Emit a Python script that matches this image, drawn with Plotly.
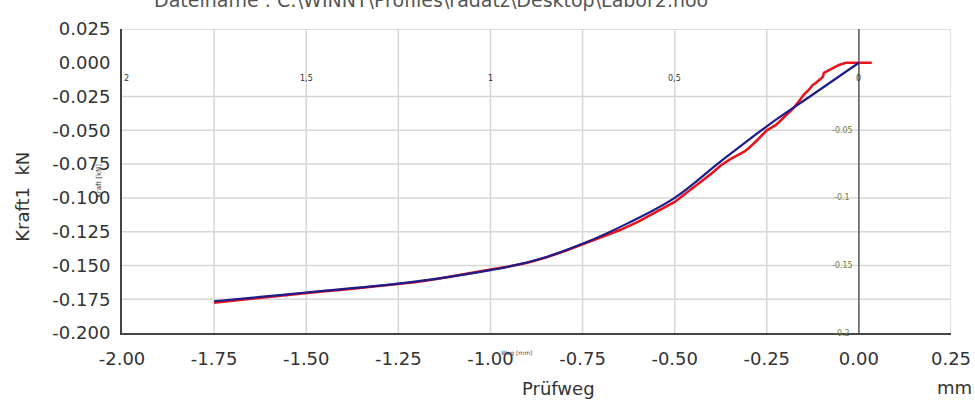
import plotly.graph_objects as go

# Measured curve (red)
meas_x = [-1.75, -1.70, -1.65, -1.60, -1.55, -1.50, -1.45, -1.40, -1.35, -1.30,
          -1.25, -1.20, -1.15, -1.10, -1.05, -1.00, -0.95, -0.90, -0.85, -0.80,
          -0.75, -0.70, -0.65, -0.60, -0.55, -0.50, -0.45, -0.40, -0.375, -0.35,
          -0.3125, -0.30, -0.275, -0.25, -0.225, -0.20, -0.177, -0.166, -0.150,
          -0.136, -0.125, -0.117, -0.098, -0.095, -0.076, -0.054, -0.035, 0.0, 0.035]
meas_y = [-0.1775, -0.1760, -0.1745, -0.1735, -0.1720, -0.1705, -0.1690, -0.1680, -0.1665, -0.1652,
          -0.1638, -0.1622, -0.1602, -0.1580, -0.1555, -0.1530, -0.1508, -0.1480, -0.1442, -0.1395,
          -0.1345, -0.1295, -0.1240, -0.1178, -0.1105, -0.1030, -0.0925, -0.0820, -0.0760, -0.0715,
          -0.0660, -0.0635, -0.0570, -0.0500, -0.0460, -0.0395, -0.0334, -0.0297, -0.0238,
          -0.0201, -0.0164, -0.0150, -0.0105, -0.0075, -0.0046, -0.0016, 0.0, 0.0, 0.0]

# Fitted curve (blue)
fit_x = [-1.75, -1.625, -1.5, -1.375, -1.25, -1.125, -1.0, -0.875, -0.75,
         -0.625, -0.5, -0.375, -0.25, -0.125, 0.0]
fit_y = [-0.1765, -0.1733, -0.1700, -0.1668, -0.1635, -0.1590, -0.1535, -0.1460, -0.1340,
         -0.1185, -0.1000, -0.0730, -0.0470, -0.0235, 0.0]

# Axis ticks / grid
x_ticks = [-2.0, -1.75, -1.5, -1.25, -1.0, -0.75, -0.5, -0.25, 0.0, 0.25]
y_ticks = [0.025, 0.0, -0.025, -0.05, -0.075, -0.1, -0.125, -0.15, -0.175, -0.2]
x_grid = [-1.75, -1.5, -1.25, -1.0, -0.75, -0.5, -0.25, 0.25]
y_grid = [0.025, -0.025, -0.05, -0.075, -0.1, -0.125, -0.15, -0.175]

# Leftover labels of the embedded chart
inner_top_vals = [-2.0, -1.5, -1.0, -0.5, 0.0]
inner_top_text = ["2", "1,5", "1", "0,5", "0"]
inner_right_vals = [-0.05, -0.1, -0.15, -0.2]
inner_right_text = ["-0.05", "-0.1", "-0.15", "-0.2"]

title_text = "Dateiname : C:\\WINNT\\Profiles\\radatz\\Desktop\\Labor2.hoo"

FONT = "DejaVu Sans"

x_ticktext = [f"{v:.2f}" for v in x_ticks]
y_ticktext = [f"{v:.3f}" for v in y_ticks]

fig = go.Figure()
fig.add_trace(go.Scatter(x=meas_x, y=meas_y, mode="lines",
                         line=dict(color="#e8141c", width=2.6), showlegend=False))
fig.add_trace(go.Scatter(x=fit_x, y=fit_y, mode="lines", line_shape="spline",
                         line=dict(color="#1c1c8a", width=2.2), showlegend=False))

shapes = []
for gx in x_grid:
    shapes.append(dict(type="line", xref="x", yref="paper", x0=gx, x1=gx, y0=0, y1=1,
                       line=dict(color="#d6d6d6", width=1.5), layer="below"))
for gy in y_grid:
    shapes.append(dict(type="line", xref="paper", yref="y", x0=0, x1=1, y0=gy, y1=gy,
                       line=dict(color="#d6d6d6", width=1.5), layer="below"))
# inner chart's vertical axis at zero
shapes.append(dict(type="line", xref="x", yref="paper", x0=0, x1=0, y0=0, y1=1,
                   line=dict(color="#555555", width=1.5), layer="below"))

annotations = []
for v, t in zip(inner_top_vals, inner_top_text):
    annotations.append(dict(x=v, y=-0.012, xref="x", yref="y", text=t, showarrow=False,
                            font=dict(family=FONT, size=8, color="#333333"),
                            xanchor="left" if v == -2.0 else "center", yanchor="middle"))
for v, t in zip(inner_right_vals, inner_right_text):
    annotations.append(dict(x=-0.045, y=v, xref="x", yref="y", text=t, showarrow=False,
                            xanchor="center", yanchor="middle",
                            font=dict(family=FONT, size=8, color="#6f7d4a")))
annotations.append(dict(x=-0.93, y=-0.2, xref="x", yref="y", yshift=-20, text="Weg [mm]",
                        xanchor="center", yanchor="middle",
                        showarrow=False, font=dict(family=FONT, size=6, color="#334466")))
annotations.append(dict(x=-0.028, y=0.5, xref="paper", yref="paper", text="Kraft [kN]",
                        textangle=-90, showarrow=False, xanchor="center", yanchor="middle",
                        font=dict(family=FONT, size=7, color="#333333")))
annotations.append(dict(x=0.036, y=1.097, xref="paper", yref="paper", text=title_text,
                        xanchor="left", yanchor="middle", showarrow=False,
                        font=dict(family=FONT, size=19, color="#555555")))
annotations.append(dict(x=-0.1194, y=0.448, xref="paper", yref="paper", text="Kraft1  kN",
                        textangle=-90, showarrow=False, xanchor="center", yanchor="middle",
                        font=dict(family=FONT, size=18, color="#333333")))
annotations.append(dict(x=0.526, y=-0.181, xref="paper", yref="paper", text="Prüfweg",
                        xanchor="center", yanchor="middle",
                        showarrow=False, font=dict(family=FONT, size=18, color="#333333")))
annotations.append(dict(x=1.004, y=-0.178, xref="paper", yref="paper", text="mm",
                        xanchor="center", yanchor="middle",
                        showarrow=False, font=dict(family=FONT, size=18, color="#333333")))

fig.update_layout(
    width=975, height=401,
    margin=dict(l=122, r=24, t=29, b=68, autoexpand=False),
    paper_bgcolor="white", plot_bgcolor="white",
    shapes=shapes, annotations=annotations,
    font=dict(family=FONT, size=18, color="#333333"),
    xaxis=dict(range=[-2.0, 0.25], tickvals=x_ticks, ticktext=x_ticktext,
               showgrid=False, zeroline=False, showline=True, linecolor="#444444",
               linewidth=2, ticks="outside", ticklen=8, tickcolor="rgba(0,0,0,0)",
               automargin=False,
               tickfont=dict(family=FONT, size=18, color="#333333")),
    yaxis=dict(range=[-0.2, 0.025], tickvals=y_ticks, ticktext=y_ticktext,
               showgrid=False, zeroline=False, showline=True, linecolor="#444444",
               linewidth=2, ticks="outside", ticklen=6, tickcolor="rgba(0,0,0,0)",
               automargin=False,
               tickfont=dict(family=FONT, size=18, color="#333333")),
)

fig.write_html("out.html", config={"displayModeBar": False},
               post_script="document.body.style.margin='0';document.body.style.overflow='hidden';")
